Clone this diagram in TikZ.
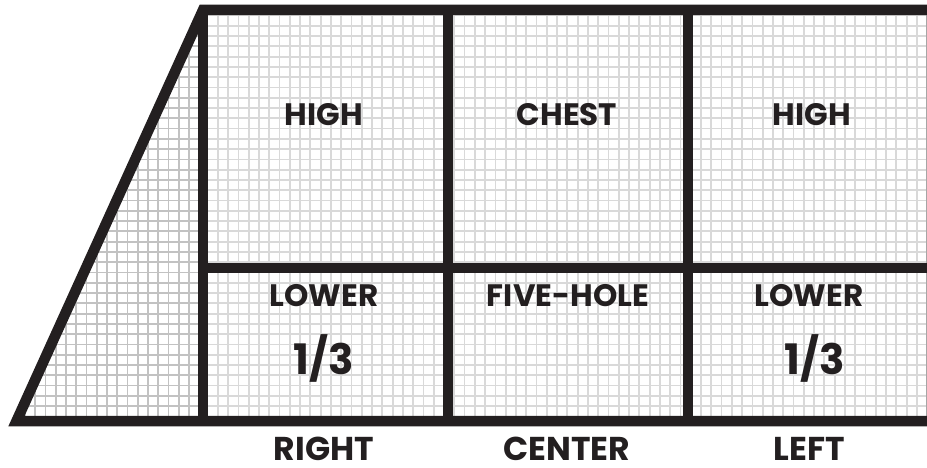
\documentclass[tikz,border=0pt]{standalone}
\usepackage{fontspec}
\newfontfamily\lblfont{Poppins}
\definecolor{post}{HTML}{231F20}
\definecolor{netA}{HTML}{D9D9D9}
\definecolor{netB}{HTML}{C2C2C2}
\tikzset{
  frame/.style={draw=post, line width=10.5pt, line join=miter, line cap=butt},
  netline/.style={draw=netA, line width=1.8pt},
  sidenet/.style={draw=netB, line width=1.8pt},
  zone/.style={font=\lblfont\bfseries\fontsize{31}{31}\selectfont, text=post, inner sep=0pt, anchor=base},
  big/.style={font=\lblfont\bfseries\fontsize{42}{42}\selectfont, text=post, inner sep=0pt, anchor=base},
  side/.style={font=\lblfont\bfseries\fontsize{33}{33}\selectfont, text=post, inner sep=0pt, anchor=base}
}
\begin{document}
\begin{tikzpicture}[x=1pt,y=-1pt]
\useasboundingbox (0,0) rectangle (927,468);
% coordinates
\coordinate (tl) at (203,10);
\coordinate (tr) at (927,10);
\coordinate (bl) at (203,421);
\coordinate (br) at (927,421);
\coordinate (foot) at (16.5,421);
\coordinate (m1t) at (448,10);
\coordinate (m1b) at (448,421);
\coordinate (m2t) at (688,10);
\coordinate (m2b) at (688,421);
\coordinate (hl) at (203,268);
\coordinate (hr) at (927,268);
% main net
\begin{scope}
\clip (tl) rectangle (br);
\foreach \i in {0,...,72} {\draw[netline] (197.3+10.28*\i,0) -- (197.3+10.28*\i,430);}
\foreach \j in {0,...,41} {\draw[netline] (190,15.5+10.28*\j) -- (930,15.5+10.28*\j);}
\end{scope}
% side net
\begin{scope}
\clip (tl) -- (foot) -- (bl) -- cycle;
\foreach \i in {0,...,20} {\draw[sidenet] (-5.8+10.25*\i,0) -- (-5.8+10.25*\i,430);}
\foreach \j in {0,...,41} {\draw[sidenet] (0,15.5+10.28*\j) -- (210,15.5+10.28*\j);}
\end{scope}
% right border
\draw[draw=gray!70, line width=1pt] (926.5,10) -- (926.5,421);
% frame
\draw[frame] (br) -- (foot) -- (tl) -- (tr);
\draw[frame] (tl) -- (bl);
\draw[frame] (m1t) -- (m1b);
\draw[frame] (m2t) -- (m2b);
\draw[frame] (hl) -- (hr);
% labels
\node[zone] (h1) at (324,126) {HIGH};
\node[zone] (ch) at (567,126) {CHEST};
\node[zone] (h2) at (812,126) {HIGH};
\node[zone] (lo1) at (324,306) {LOWER};
\node[zone] (fh) at (568,306) {FIVE-HOLE};
\node[zone] (lo2) at (809,306) {LOWER};
\node[big] (t1) at (324,374) {1/3};
\node[big] (t2) at (815,374) {1/3};
\node[side] (r) at (324,460) {RIGHT};
\node[side] (c) at (567,460) {CENTER};
\node[side] (l) at (809,460) {LEFT};
\end{tikzpicture}
\end{document}
